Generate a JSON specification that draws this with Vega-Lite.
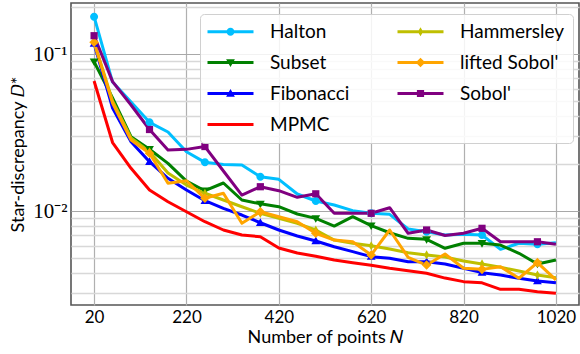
{
  "$schema": "https://vega.github.io/schema/vega-lite/v6.json",
  "width": 508,
  "height": 302,
  "autosize": {"type": "none"},
  "padding": {"left": 71, "top": 3, "right": 1, "bottom": 49},
  "background": "white",
  "config": {
    "view": {"stroke": "#555555", "strokeWidth": 1.6},
    "axis": {"domain": false, "ticks": false, "labelColor": "black", "titleColor": "black", "titleFontWeight": "normal"}
  },
  "data": {
    "values": [
      {"n": 20, "Halton": 0.1728, "Subset": 0.08933, "Fibonacci": 0.1166, "MPMC": 0.0673, "Hammersley": 0.1192, "liftedSobol": 0.1187, "Sobol": 0.1308},
      {"n": 60, "Halton": 0.0663, "Subset": 0.05245, "Fibonacci": 0.04529, "MPMC": 0.02731, "Hammersley": 0.05017, "liftedSobol": 0.04875, "Sobol": 0.06665},
      {"n": 100, "Halton": 0.04946, "Subset": 0.02973, "Fibonacci": 0.02763, "MPMC": 0.01871, "Hammersley": 0.02917, "liftedSobol": 0.02833, "Sobol": 0.04733},
      {"n": 140, "Halton": 0.03673, "Subset": 0.02472, "Fibonacci": 0.0206, "MPMC": 0.01361, "Hammersley": 0.02385, "liftedSobol": 0.02331, "Sobol": 0.03304},
      {"n": 180, "Halton": 0.03186, "Subset": 0.02012, "Fibonacci": 0.01616, "MPMC": 0.01146, "Hammersley": 0.01746, "liftedSobol": 0.01501, "Sobol": 0.02445},
      {"n": 220, "Halton": 0.02385, "Subset": 0.01552, "Fibonacci": 0.01361, "MPMC": 0.0099, "Hammersley": 0.01464, "liftedSobol": 0.01559, "Sobol": 0.0247},
      {"n": 260, "Halton": 0.02042, "Subset": 0.01347, "Fibonacci": 0.01163, "MPMC": 0.00855, "Hammersley": 0.01297, "liftedSobol": 0.01205, "Sobol": 0.02574},
      {"n": 300, "Halton": 0.01978, "Subset": 0.01508, "Fibonacci": 0.0104, "MPMC": 0.00757, "Hammersley": 0.01175, "liftedSobol": 0.01297, "Sobol": 0.01798},
      {"n": 340, "Halton": 0.01963, "Subset": 0.01175, "Fibonacci": 0.00943, "MPMC": 0.00703, "Hammersley": 0.01065, "liftedSobol": 0.00835, "Sobol": 0.01264},
      {"n": 380, "Halton": 0.01654, "Subset": 0.01111, "Fibonacci": 0.00842, "MPMC": 0.00686, "Hammersley": 0.00967, "liftedSobol": 0.0099, "Sobol": 0.01428},
      {"n": 420, "Halton": 0.01592, "Subset": 0.01065, "Fibonacci": 0.00757, "MPMC": 0.00581, "Hammersley": 0.00898, "liftedSobol": 0.0092, "Sobol": 0.01347},
      {"n": 460, "Halton": 0.01283, "Subset": 0.00957, "Fibonacci": 0.00693, "MPMC": 0.0054, "Hammersley": 0.00835, "liftedSobol": 0.00855, "Sobol": 0.01223},
      {"n": 500, "Halton": 0.01158, "Subset": 0.00898, "Fibonacci": 0.00644, "MPMC": 0.00515, "Hammersley": 0.00757, "liftedSobol": 0.00721, "Sobol": 0.01287},
      {"n": 540, "Halton": 0.01092, "Subset": 0.00802, "Fibonacci": 0.00592, "MPMC": 0.00487, "Hammersley": 0.00653, "liftedSobol": 0.00653, "Sobol": 0.00967},
      {"n": 580, "Halton": 0.01005, "Subset": 0.0092, "Fibonacci": 0.00551, "MPMC": 0.00469, "Hammersley": 0.00623, "liftedSobol": 0.00637, "Sobol": 0.00967},
      {"n": 620, "Halton": 0.00967, "Subset": 0.00806, "Fibonacci": 0.00512, "MPMC": 0.00451, "Hammersley": 0.00601, "liftedSobol": 0.00525, "Sobol": 0.00967},
      {"n": 660, "Halton": 0.00953, "Subset": 0.00727, "Fibonacci": 0.005, "MPMC": 0.00432, "Hammersley": 0.00573, "liftedSobol": 0.00757, "Sobol": 0.0105},
      {"n": 700, "Halton": 0.00768, "Subset": 0.0067, "Fibonacci": 0.00475, "MPMC": 0.00417, "Hammersley": 0.00543, "liftedSobol": 0.00507, "Sobol": 0.00721},
      {"n": 740, "Halton": 0.00738, "Subset": 0.0066, "Fibonacci": 0.00475, "MPMC": 0.00401, "Hammersley": 0.00525, "liftedSobol": 0.00453, "Sobol": 0.00757},
      {"n": 780, "Halton": 0.00703, "Subset": 0.00579, "Fibonacci": 0.0046, "MPMC": 0.00374, "Hammersley": 0.00509, "liftedSobol": 0.00532, "Sobol": 0.00698},
      {"n": 820, "Halton": 0.0071, "Subset": 0.00623, "Fibonacci": 0.00432, "MPMC": 0.00355, "Hammersley": 0.0048, "liftedSobol": 0.00432, "Sobol": 0.00721},
      {"n": 860, "Halton": 0.00703, "Subset": 0.00623, "Fibonacci": 0.00405, "MPMC": 0.00349, "Hammersley": 0.0046, "liftedSobol": 0.00425, "Sobol": 0.00776},
      {"n": 900, "Halton": 0.0057, "Subset": 0.00607, "Fibonacci": 0.00391, "MPMC": 0.00317, "Hammersley": 0.00438, "liftedSobol": 0.00442, "Sobol": 0.00637},
      {"n": 940, "Halton": 0.00623, "Subset": 0.00538, "Fibonacci": 0.00373, "MPMC": 0.00317, "Hammersley": 0.00415, "liftedSobol": 0.00373, "Sobol": 0.00637},
      {"n": 980, "Halton": 0.00614, "Subset": 0.0046, "Fibonacci": 0.00358, "MPMC": 0.00306, "Hammersley": 0.00391, "liftedSobol": 0.00469, "Sobol": 0.00637},
      {"n": 1020, "Halton": 0.00628, "Subset": 0.00487, "Fibonacci": 0.00349, "MPMC": 0.00299, "Hammersley": 0.00376, "liftedSobol": 0.00364, "Sobol": 0.00614}
    ]
  },
  "transform": [
    {"fold": ["Halton", "Subset", "Fibonacci", "MPMC", "Hammersley", "liftedSobol", "Sobol"], "as": ["series", "d"]}
  ],
  "encoding": {
    "x": {
      "field": "n", "type": "quantitative",
      "scale": {"domain": [-30, 1070], "nice": false, "zero": false},
      "axis": {
        "values": [20, 220, 420, 620, 820, 1020],
        "format": "d",
        "title": "Number of points 𝑁",
        "labelFont": "Lato", "labelFontSize": 17, "labelPadding": 4,
        "titleFont": "Lato", "titleFontSize": 18, "titlePadding": 3,
        "gridColor": "#b0b0b0", "gridWidth": 1.2
      }
    },
    "y": {
      "field": "d", "type": "quantitative",
      "scale": {"type": "log", "domain": [0.00252, 0.2113], "nice": false},
      "axis": {
        "values": [0.003, 0.004, 0.005, 0.006, 0.007, 0.008, 0.009, 0.01, 0.02, 0.03, 0.04, 0.05, 0.06, 0.07, 0.08, 0.09, 0.1, 0.2],
        "labelExpr": "datum.value == 0.1 ? '10⁻¹' : datum.value == 0.01 ? '10⁻²' : ''",
        "title": "Star-discrepancy 𝐷*",
        "labelFont": "Liberation Serif", "labelFontSize": 21, "labelPadding": 4,
        "titleFont": "Lato", "titleFontSize": 18, "titlePadding": 5,
        "gridColor": {"condition": {"test": "datum.value == 0.1 || datum.value == 0.01", "value": "#a8a8a8"}, "value": "#d8d8d8"},
        "gridWidth": {"condition": {"test": "datum.value == 0.1 || datum.value == 0.01", "value": 1.2}, "value": 1.6}
      }
    }
  },
  "layer": [
    {
      "mark": {"type": "line", "strokeWidth": 3, "strokeJoin": "round"},
      "encoding": {
        "color": {
          "field": "series", "type": "nominal",
          "scale": {
            "domain": ["Halton", "Subset", "Fibonacci", "MPMC", "Hammersley", "liftedSobol", "Sobol"],
            "range": ["#00bfff", "#008000", "#0000ff", "#ff0000", "#bfbf00", "#ffa500", "#800080"]
          },
          "legend": null
        }
      }
    },
    {
      "transform": [{"filter": "datum.n % 120 == 20 && datum.series != 'MPMC'"}],
      "mark": {"type": "point", "filled": true, "opacity": 1, "size": 64, "strokeWidth": 0},
      "encoding": {
        "color": {
          "field": "series", "type": "nominal",
          "scale": {
            "domain": ["Halton", "Subset", "Fibonacci", "MPMC", "Hammersley", "liftedSobol", "Sobol"],
            "range": ["#00bfff", "#008000", "#0000ff", "#ff0000", "#bfbf00", "#ffa500", "#800080"]
          },
          "legend": null
        },
        "shape": {
          "field": "series", "type": "nominal",
          "scale": {
            "domain": ["Halton", "Subset", "Fibonacci", "MPMC", "Hammersley", "liftedSobol", "Sobol"],
            "range": [
              "M-1,0A1,1 0 1,1 1,0A1,1 0 1,1 -1,0Z",
              "M-1.1,-0.8L1.1,-0.8L0,1.1Z",
              "M0,-1.1L1.1,0.8L-1.1,0.8Z",
              "M0,0L0,0Z",
              "M0,-1.15L0.65,0L0,1.15L-0.65,0Z",
              "M0,-1.2L1.2,0L0,1.2L-1.2,0Z",
              "M-0.9,-0.9L0.9,-0.9L0.9,0.9L-0.9,0.9Z"
            ]
          },
          "legend": null
        }
      }
    },
    {
      "transform": [{"filter": "false"}],
      "mark": {"type": "point", "filled": true, "opacity": 1, "size": 64, "strokeWidth": 0},
      "encoding": {
        "color": {
          "field": "series", "type": "nominal",
          "scale": {
            "domain": ["Halton", "Subset", "Fibonacci", "MPMC", "Hammersley", "liftedSobol", "Sobol"],
            "range": ["#00bfff", "#008000", "#0000ff", "#ff0000", "#bfbf00", "#ffa500", "#800080"]
          },
          "legend": {
            "title": null, "orient": "none", "legendX": 129, "legendY": 11, "columns": 2,
            "symbolSize": 64, "symbolOffset": 13, "labelOffset": 30, "symbolStrokeWidth": 0,
            "labelFont": "Lato", "labelFontSize": 19, "labelColor": "black", "labelLimit": 300,
            "labelExpr": "datum.label == 'liftedSobol' ? \"lifted Sobol'\" : datum.label == 'Sobol' ? \"Sobol'\" : datum.label",
            "rowPadding": 11, "columnPadding": 47, "padding": 8,
            "fillColor": "rgba(255,255,255,0.85)", "strokeColor": "#d0d0d0", "cornerRadius": 4
          }
        },
        "shape": {
          "field": "series", "type": "nominal",
          "scale": {
            "domain": ["Halton", "Subset", "Fibonacci", "MPMC", "Hammersley", "liftedSobol", "Sobol"],
            "range": [
              "M-5.75,-0.375L5.75,-0.375L5.75,0.375L-5.75,0.375Z M-1,0A1,1 0 1,1 1,0A1,1 0 1,1 -1,0Z",
              "M-5.75,-0.375L5.75,-0.375L5.75,0.375L-5.75,0.375Z M-1.1,-0.8L1.1,-0.8L0,1.1Z",
              "M-5.75,-0.375L5.75,-0.375L5.75,0.375L-5.75,0.375Z M0,-1.1L1.1,0.8L-1.1,0.8Z",
              "M-5.75,-0.375L5.75,-0.375L5.75,0.375L-5.75,0.375Z",
              "M-5.75,-0.375L5.75,-0.375L5.75,0.375L-5.75,0.375Z M0,-1.15L0.65,0L0,1.15L-0.65,0Z",
              "M-5.75,-0.375L5.75,-0.375L5.75,0.375L-5.75,0.375Z M0,-1.2L1.2,0L0,1.2L-1.2,0Z",
              "M-5.75,-0.375L5.75,-0.375L5.75,0.375L-5.75,0.375Z M-0.9,-0.9L0.9,-0.9L0.9,0.9L-0.9,0.9Z"
            ]
          },
          "legend": {
            "title": null, "orient": "none", "legendX": 129, "legendY": 11, "columns": 2,
            "symbolSize": 64, "symbolOffset": 13, "labelOffset": 30, "symbolStrokeWidth": 0,
            "labelFont": "Lato", "labelFontSize": 19, "labelColor": "black", "labelLimit": 300,
            "labelExpr": "datum.label == 'liftedSobol' ? \"lifted Sobol'\" : datum.label == 'Sobol' ? \"Sobol'\" : datum.label",
            "rowPadding": 11, "columnPadding": 47, "padding": 8,
            "fillColor": "rgba(255,255,255,0.85)", "strokeColor": "#d0d0d0", "cornerRadius": 4
          }
        }
      }
    }
  ],
  "resolve": {"scale": {"shape": "independent", "color": "independent"}}
}
